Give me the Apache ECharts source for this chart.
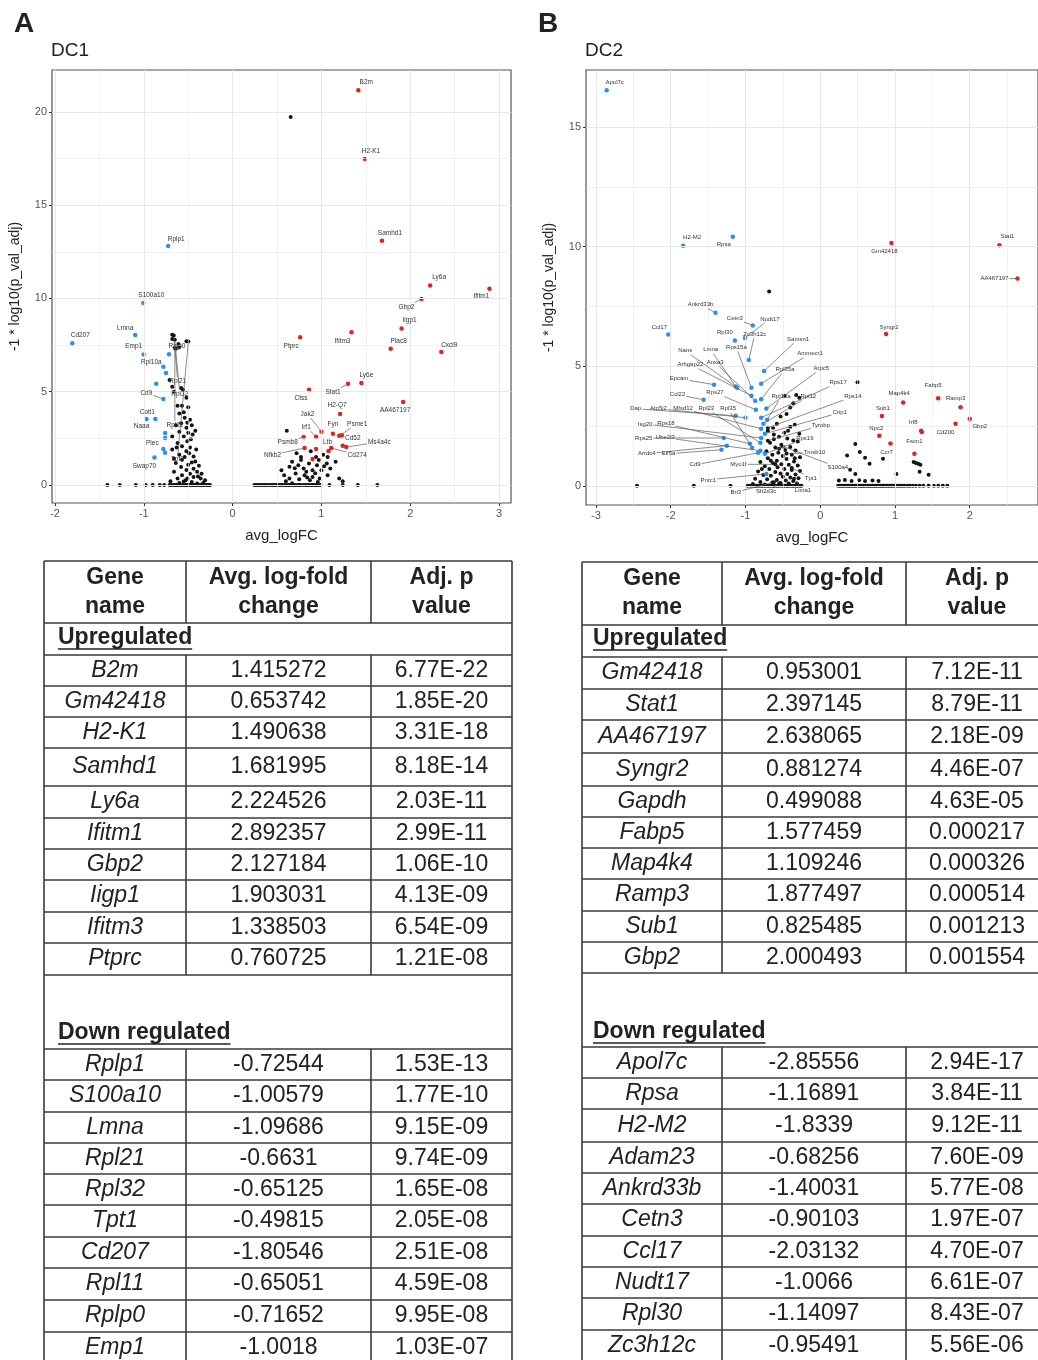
<!DOCTYPE html>
<html><head><meta charset="utf-8">
<script src="https://cdn.jsdelivr.net/npm/echarts@6/dist/echarts.min.js"></script>
<style>html,body{margin:0;padding:0;background:#fff}#c{width:1038px;height:1360px}</style>
</head><body><div id="c"></div>
<script>
// ---------------- DATA ----------------
// Tables (gene, avg logFC, adj p)
const tableA_up = [
 ['B2m','1.415272','6.77E-22'],['Gm42418','0.653742','1.85E-20'],['H2-K1','1.490638','3.31E-18'],
 ['Samhd1','1.681995','8.18E-14'],['Ly6a','2.224526','2.03E-11'],['Ifitm1','2.892357','2.99E-11'],
 ['Gbp2','2.127184','1.06E-10'],['Iigp1','1.903031','4.13E-09'],['Ifitm3','1.338503','6.54E-09'],
 ['Ptprc','0.760725','1.21E-08']];
const tableA_down = [
 ['Rplp1','-0.72544','1.53E-13'],['S100a10','-1.00579','1.77E-10'],['Lmna','-1.09686','9.15E-09'],
 ['Rpl21','-0.6631','9.74E-09'],['Rpl32','-0.65125','1.65E-08'],['Tpt1','-0.49815','2.05E-08'],
 ['Cd207','-1.80546','2.51E-08'],['Rpl11','-0.65051','4.59E-08'],['Rplp0','-0.71652','9.95E-08'],
 ['Emp1','-1.0018','1.03E-07']];
const tableB_up = [
 ['Gm42418','0.953001','7.12E-11'],['Stat1','2.397145','8.79E-11'],['AA467197','2.638065','2.18E-09'],
 ['Syngr2','0.881274','4.46E-07'],['Gapdh','0.499088','4.63E-05'],['Fabp5','1.577459','0.000217'],
 ['Map4k4','1.109246','0.000326'],['Ramp3','1.877497','0.000514'],['Sub1','0.825485','0.001213'],
 ['Gbp2','2.000493','0.001554']];
const tableB_down = [
 ['Apol7c','-2.85556','2.94E-17'],['Rpsa','-1.16891','3.84E-11'],['H2-M2','-1.8339','9.12E-11'],
 ['Adam23','-0.68256','7.60E-09'],['Ankrd33b','-1.40031','5.77E-08'],['Cetn3','-0.90103','1.97E-07'],
 ['Ccl17','-2.03132','4.70E-07'],['Nudt17','-1.0066','6.61E-07'],['Rpl30','-1.14097','8.43E-07'],
 ['Zc3h12c','-0.95491','5.56E-06']];

// Extra labelled genes on the volcano plots (avg_logFC, -log10 p_adj, name)
const extraA = [
 [1.78,7.3,'Plac8'],[2.35,7.13,'Cxcl9'],[1.45,5.47,'Ly6e'],[1.30,5.42,'Stat1'],[0.86,5.1,'Ctss'],
 [1.92,4.45,'AA467197'],[1.21,3.8,'H2-Q7'],[1.0,2.85,'Jak2'],[0.94,2.58,'Irf1'],[1.13,2.74,'Fyn'],
 [1.2,2.63,'Psme1'],[1.23,2.66,''],[0.80,2.57,'Psmb8'],[0.81,1.98,'Nfkb2'],[0.94,1.93,''],
 [1.08,1.82,'Ltb'],[1.11,1.98,'Cd274'],[1.24,2.1,'Cd52'],[1.28,2.03,'Ms4a4c'],[0.9,1.39,''],
 [-0.78,6.33,'Rpl10a'],[-0.75,6.0,''],[-0.86,5.42,''],[-0.78,4.61,'Cd9'],[-0.97,3.54,'Naaa'],
 [-0.87,3.54,'Cotl1'],[-0.76,2.79,''],[-0.76,2.52,''],[-0.78,1.93,'Plec'],[-0.76,1.72,''],
 [-0.88,1.47,'Swap70']];
const extraB = [
 [1.81,2.6,'Cd200'],[1.35,2.3,'Irf8'],[1.36,2.25,''],[0.79,2.09,'Npc2'],[0.94,1.77,'Ccr7'],[1.26,1.34,'Fscn1'],
 [-0.75,4.8,'Samsn1'],[-1.42,4.23,'Epcam'],[-1.13,4.15,'Lmna'],[-1.11,4.1,'Nans'],[-0.92,4.1,'Rps15a'],
 [-0.79,4.27,'Ammecr1'],[-0.92,3.77,'Arhgap22'],[-0.87,3.56,'Anxa3'],[-1.56,3.6,'Ccl22'],[-0.79,3.62,'Rpl35a'],
 [-0.72,3.23,'Arpc5'],[-0.86,3.18,'Rps27'],[-1.13,2.93,'Dap'],[-1.0,2.85,'Atp5j2'],[-0.79,2.85,'Rps17'],
 [-0.71,2.76,'Rpl13a'],[-0.76,2.6,'Rpl12'],[-0.70,2.43,'Rps14'],[-0.79,2.39,'Mfsd12'],[-0.74,2.18,'Crip1'],
 [-1.29,2.0,'Rps25'],[-0.79,2.0,'Isg20'],[-0.70,1.89,'Tyrobp'],[-0.94,1.76,'Rps18'],[-0.80,1.8,'Rpl23'],
 [-1.25,1.68,'Arrdc4'],[-1.32,1.51,'Eif5a'],[-0.91,1.59,'Rpl35'],[-0.83,1.38,'Cd9'],[-0.74,1.34,'Rps19'],
 [-0.80,1.47,'Ube2l3'],
 [-0.62,0.15,'Bri3'],[-0.55,0.1,'Sh2d3c'],[-0.35,0.3,'Lima1'],[-0.38,0.75,'Tpt1'],[-0.45,1.35,'Tmsb10'],
 [-0.5,1.65,'S100a4'],[-0.72,0.5,'Pnrc1'],[-0.6,0.9,'Myo1f']];

// Unlabelled genes (avg_logFC, -log10 p_adj)
const otherA = [
 [-0.68,8.05],[-0.68,7.83],[-0.61,7.55],[-0.52,7.7],[-0.6,7.4],[-0.64,7.3],[-0.71,5.63],[-0.68,5.26],
 [-0.58,5.2],[-0.56,5.1],[-0.66,5.0],[-0.52,4.67],[-0.62,4.24],[-0.57,4.24],[-0.5,4.17],[-0.6,3.83],
 [-0.54,3.6],[-0.48,3.5],[-0.51,3.33],[-0.58,3.3],[-0.64,3.2],[-0.46,3.2],[-0.52,3.07],[-0.6,2.85],
 [-0.5,2.8],[-0.45,2.7],[-0.68,2.6],[-0.55,2.6],[-0.51,2.34],[-0.62,2.25],[-0.57,2.07],[-0.48,2.0],
 [-0.68,1.9],[-0.52,1.8],[-0.6,1.62],[-0.44,1.52],[-0.57,1.35],[-0.42,1.26],[-0.64,1.17],[-0.5,1.08],
 [-0.38,1.03],[-0.58,0.96],[-0.44,0.87],[-0.52,0.8],[-0.66,0.7],[-0.4,0.7],[-0.48,0.6],[-0.57,0.52],
 [-0.44,0.43],[-0.62,0.34],[-0.36,0.34],[-0.51,0.34],[-0.7,0.2],[-0.55,0.18],[-0.46,0.15],[-0.33,0.12],
 [-0.6,0.1],[-0.4,0.08],[-0.47,2.45],[-0.42,2.9],[-0.55,3.9],[-0.49,1.7],[-0.46,1.2],[-0.54,1.5],
 [-0.41,1.9],[-0.63,2.0],[-0.66,1.4],[-0.35,0.6],[-0.31,0.25],[-0.39,0.45],[-0.53,0.25],
 [-1.41,0],[-1.27,0],[-1.09,0],[-0.98,0],[-0.9,0],[-0.82,0],[-0.77,0],[-0.71,0],[-0.69,0],[-0.665,0],
 [-0.64,0],[-0.63,0],[-0.61,0],[-0.585,0],[-0.57,0],[-0.55,0],[-0.53,0],[-0.515,0],[-0.5,0],[-0.48,0],
 [-0.465,0],[-0.45,0],[-0.43,0],[-0.41,0],[-0.395,0],[-0.38,0],[-0.36,0],[-0.345,0],[-0.33,0],[-0.31,0],
 [-0.295,0],[-0.28,0],[-0.265,0],[-0.255,0],
 [0.61,2.9],[0.64,0.97],[0.67,1.24],[0.74,1.06],[0.77,1.33],[0.8,0.88],[0.86,1.15],[0.9,0.79],
 [0.95,1.06],[0.97,1.33],[1.0,0.79],[1.06,1.15],[1.1,0.88],[0.71,0.61],[0.81,0.52],[0.9,0.43],
 [0.64,0.34],[0.87,0.25],[0.98,0.34],[1.07,0.52],[1.2,0.34],[1.24,0.2],[0.77,1.5],[0.94,1.5],
 [1.07,1.5],[1.16,1.24],[0.55,0.79],[0.58,0.52],[0.67,0.09],[0.7,0.9],[0.83,0.7],[0.93,0.62],
 [1.03,1.0],[0.75,0.3],[0.6,0.2],[0.72,1.7],[0.88,1.8],[1.02,1.62],[0.84,0.4],[0.96,0.15],
 [0.245,0],[0.27,0],[0.29,0],[0.31,0],[0.335,0],[0.355,0],[0.37,0],[0.39,0],[0.415,0],[0.44,0],
 [0.46,0],[0.48,0],[0.5,0],[0.525,0],[0.545,0],[0.56,0],[0.585,0],[0.61,0],[0.63,0],[0.645,0],
 [0.67,0],[0.69,0],[0.71,0],[0.735,0],[0.75,0],[0.77,0],[0.8,0],[0.82,0],[0.84,0],[0.86,0],
 [0.885,0],[0.9,0],[0.925,0],[0.945,0],[0.97,0],[0.99,0],[1.09,0],[1.24,0],[1.41,0],[1.63,0]];
const otherB = [
 [-0.48,3.77],[-0.32,3.8],[-0.28,3.68],[-0.4,3.27],[-0.36,3.45],[-0.53,2.9],[-0.45,3.0],[-0.4,2.47],
 [-0.63,2.43],[-0.48,2.22],[-0.28,2.18],[-0.58,2.6],[-0.34,2.55],[-0.7,2.3],[-0.55,2.05],[-0.62,1.95],
 [-0.44,1.98],[-0.36,1.9],[-0.3,1.85],[-0.67,1.8],[-0.52,1.72],[-0.6,1.6],[-0.4,1.62],[-0.47,1.5],
 [-0.33,1.48],[-0.72,1.45],[-0.56,1.38],[-0.64,1.3],[-0.38,1.3],[-0.5,1.25],[-0.27,1.2],[-0.7,1.15],
 [-0.45,1.12],[-0.58,1.05],[-0.35,1.02],[-0.8,1.0],[-0.63,0.95],[-0.52,0.9],[-0.42,0.88],[-0.3,0.85],
 [-0.74,0.82],[-0.57,0.78],[-0.68,0.7],[-0.48,0.7],[-0.38,0.66],[-0.27,0.62],[-0.83,0.6],[-0.6,0.58],
 [-0.53,0.52],[-0.44,0.5],[-0.33,0.47],[-0.76,0.45],[-0.66,0.42],[-0.5,0.38],[-0.4,0.35],[-0.29,0.32],
 [-0.87,0.3],[-0.71,0.28],[-0.58,0.25],[-0.46,0.22],[-0.36,0.2],[-0.8,0.16],[-0.64,0.14],[-0.53,0.12],
 [-0.42,0.1],[-0.31,0.1],[-0.9,0.08],[-0.74,0.06],[-0.66,1.05],[-0.55,1.55],[-0.43,2.3],[-0.62,2.15],
 [-0.34,1.15],[-0.78,0.7],
 [-2.45,0],[-1.69,0],[-1.2,0],[-0.97,0],[-0.93,0],[-0.9,0],[-0.87,0],[-0.85,0],[-0.82,0],[-0.79,0],
 [-0.77,0],[-0.74,0],[-0.71,0],[-0.69,0],[-0.66,0],[-0.63,0],[-0.61,0],[-0.58,0],[-0.56,0],[-0.53,0],
 [-0.5,0],[-0.48,0],[-0.45,0],[-0.43,0],[-0.4,0],[-0.37,0],[-0.35,0],[-0.32,0],[-0.3,0],[-0.27,0],[-0.25,0],
 [0.47,1.75],[0.36,1.27],[0.53,1.42],[0.6,1.17],[0.66,0.92],[0.84,1.13],[0.4,0.67],[0.47,0.5],
 [1.02,0.5],[1.28,0.96],[1.31,0.92],[1.34,0.88],[1.33,0.59],[1.45,0.46],[1.25,1.0],[0.25,0.22],
 [0.33,0.24],[0.42,0.2],[0.52,0.23],[0.6,0.2],[0.7,0.22],[0.78,0.2],
 [0.24,0],[0.265,0],[0.29,0],[0.31,0],[0.335,0],[0.36,0],[0.38,0],[0.4,0],[0.425,0],[0.45,0],
 [0.47,0],[0.49,0],[0.515,0],[0.54,0],[0.56,0],[0.58,0],[0.605,0],[0.63,0],[0.65,0],[0.67,0],
 [0.695,0],[0.72,0],[0.74,0],[0.76,0],[0.785,0],[0.81,0],[0.83,0],[0.85,0],[0.875,0],[0.9,0],
 [0.92,0],[0.94,0],[0.965,0],[0.99,0],[1.01,0],[1.04,0],[1.07,0],[1.1,0],[1.13,0],[1.17,0],
 [1.2,0],[1.24,0],[1.28,0],[1.33,0],[1.38,0],[1.45,0],[1.52,0],[1.58,0],[1.64,0],[1.7,0]];

// Axis ticks and grid lines
const ticksXA = [-2,-1,0,1,2,3], ticksYA = [0,5,10,15,20];
const minorXA = [-1.5,-0.5,0.5,1.5,2.5], minorYA = [2.5,7.5,12.5,17.5];
const ticksXB = [-3,-2,-1,0,1,2], ticksYB = [0,5,10,15];
const minorXB = [-2.5,-1.5,-0.5,0.5,1.5,2.5], minorYB = [2.5,7.5,12.5];
const FC_CUT = 0.7;

// -------------- LAYOUT / STYLE ----------------
const FONT = '"Liberation Sans", Arial, Helvetica, sans-serif';
const RED = '#e0231e', BLUE = '#2a8ff0', BLACK = '#141414';
// label offsets in px (label centre relative to point)
const offA = {
 'B2m':[8,-8],'H2-K1':[6,-8],'Samhd1':[8,-8],'Ly6a':[9,-8],'Ifitm1':[-8,8],'Gbp2':[-15,8],'Iigp1':[8,-8],
 'Ifitm3':[-9,9],'Ptprc':[-9,9],'Plac8':[8,-8],'Cxcl9':[8,-7],'Ly6e':[5,-8],'Stat1':[-15,8],'Ctss':[-8,8],
 'AA467197':[-8,8],'H2-Q7':[-3,-9],'Jak2':[-14,-18],'Irf1':[-10,-10],'Fyn':[0,-10],'Psme1':[18,-12],
 'Psmb8':[-16,5],'Ltb':[-1,-9],'Cd52':[10,-8],'Ms4a4c':[33,-5],'Cd274':[26,7],'Nfkb2':[-32,7],
 'Rplp1':[8,-7],'S100a10':[8,-8],'Lmna':[-10,-7],'Cd207':[8,-8],'Emp1':[-10,-8],'Rplp0':[8,-8],
 'Rpl10a':[-12,-5],'Cd9':[-17,-6],'Cotl1':[-8,-7],'Naaa':[-5,7],'Plec':[-11,-6],'Swap70':[-10,9],
 'Rpl21':[4,46],'Rpl32':[5,54],'Rpl11':[0,77],'Tpt1':[-11,118]};
const offB = {
 'Gm42418':[-7,8],'Stat1':[8,-9],'AA467197':[-23,0],'Syngr2':[3,-7],'Apol7c':[8,-8],'Rpsa':[-9,8],
 'H2-M2':[9,-8],'Ankrd33b':[-15,-8],'Ccl17':[-9,-7],'Cetn3':[-18,-7],'Nudt17':[25,-19],'Rpl30':[-10,-8],
 'Zc3h12c':[6,-26],'Fabp5':[-5,-13],'Map4k4':[-4,-9],'Ramp3':[-5,-9],'Sub1':[1,-8],'Gbp2':[10,8],
 'Cd200':[-10,9],'Irf8':[-8,-8],'Npc2':[-3,-8],'Ccr7':[-4,9],'Fscn1':[0,-12],
 'Samsn1':[34,-32],'Ammecr1':[49,-30],'Lmna':[-25,-37],'Nans':[-52,-37],'Rps15a':[-15,-40],
 'Arhgap22':[-61,-31],'Anxa3':[-40,-38],'Rpl35a':[24,-30],'Arpc5':[55,-40],'Epcam':[-35,-6],
 'Ccl22':[-26,-5],'Rps27':[-41,-17],'Dap':[-100,-7],'Atp5j2':[-87,-9],'Mfsd12':[-78,-20],
 'Rpl23':[-54,-34],'Rpl35':[-24,-39],'Rps17':[77,-35],'Rpl13a':[14,-23],'Rpl12':[45,-27],
 'Rps14':[85,-31],'Crip1':[75,-21],'Tyrobp':[53,-15],'Isg20':[-116,-14],'Rps18':[-84,-20],
 'Rps25':[-80,0],'Ube2l3':[-95,-13],'Arrdc4':[-80,8],'Eif5a':[-53,4],'Cd9':[-63,12],'Rps19':[40,-15],
 'Bri3':[-38,10],'Sh2d3c':[-13,8],'Lima1':[9,12],'Tpt1':[19,10],'Tmsb10':[28,-1],'S100a4':[55,21],
 'Pnrc1':[-58,6],'Myo1f':[-37,0]};

const mctx = document.createElement('canvas').getContext('2d');
function tw(t, font){ mctx.font = font; return mctx.measureText(t).width; }

function fromTable(t){ return t.map(r => [parseFloat(r[1]), -Math.log10(parseFloat(r[2])), r[0]]); }
const labelledA = fromTable(tableA_up).concat(fromTable(tableA_down), extraA);
const labelledB = fromTable(tableB_up).concat(fromTable(tableB_down), extraB);
function split(list){
  const r=[],b=[],k=[];
  list.forEach(d => { if (d[0] > FC_CUT) r.push([d[0],d[1]]); else if (d[0] < -FC_CUT) b.push([d[0],d[1]]); else k.push([d[0],d[1]]); });
  return {red:r, blue:b, black:k};
}
const sA = split(labelledA), sB = split(labelledB);

function gridLines(gi, majX, minX, majY, minY){
  const c = '#e8e8e8';
  const d = [];
  majX.forEach(v => d.push({xAxis:v, lineStyle:{color:c, width:1.1, type:'solid'}}));
  minX.forEach(v => d.push({xAxis:v, lineStyle:{color:c, width:0.6, type:'solid'}}));
  majY.forEach(v => d.push({yAxis:v, lineStyle:{color:c, width:1.1, type:'solid'}}));
  minY.forEach(v => d.push({yAxis:v, lineStyle:{color:c, width:0.6, type:'solid'}}));
  return {type:'scatter', xAxisIndex:gi, yAxisIndex:gi, data:[], z:1, silent:true,
    markLine:{silent:true, symbol:['none','none'], label:{show:false}, animation:false, data:d}};
}
function pts(gi, data, color, size, z){
  return {type:'scatter', xAxisIndex:gi, yAxisIndex:gi, data:data, symbol:'circle', symbolSize:size,
    itemStyle:{color:color, opacity:1}, z:z, silent:true, animation:false};
}
function labels(gi, items, offs, fs){
  const list = items.filter(d => d[2] && offs[d[2]]);
  const font = fs + 'px ' + FONT;
  return {type:'custom', xAxisIndex:gi, yAxisIndex:gi, coordinateSystem:'cartesian2d', clip:false,
    z:10, silent:true, animation:false,
    data: list.map(d => [d[0], d[1]]),
    renderItem: function(params, api){
      const d = list[params.dataIndex];
      const o = offs[d[2]];
      const p = api.coord([api.value(0), api.value(1)]);
      const cx = p[0]+o[0], cy = p[1]+o[1];
      const w = tw(d[2], font)/2 + 1, h = fs/2 + 1;
      const ch = [{type:'text', x:cx, y:cy, style:{text:d[2], fill:'#333', font:font,
        align:'center', verticalAlign:'middle', textAlign:'center', textVerticalAlign:'middle'}}];
      const dist = Math.sqrt(o[0]*o[0]+o[1]*o[1]);
      if (dist > 14) {
        const tx = o[0] !== 0 ? w/Math.abs(o[0]) : Infinity;
        const ty = o[1] !== 0 ? h/Math.abs(o[1]) : Infinity;
        const t = Math.min(tx, ty);
        ch.unshift({type:'line', shape:{x1:p[0]+o[0]*2/dist, y1:p[1]+o[1]*2/dist, x2:cx-o[0]*t, y2:cy-o[1]*t},
          style:{stroke:'#5a5a5a', lineWidth:0.7}});
      }
      return {type:'group', children:ch};
    }};
}
function xAxis(gi, min, max, ticks){
  return {gridIndex:gi, type:'value', min:min, max:max, splitLine:{show:false},
    axisLine:{show:false, onZero:false},
    axisTick:{show:true, customValues:ticks, length:3, lineStyle:{color:'#333', width:1}},
    axisLabel:{customValues:ticks, color:'#555', fontSize:11, fontFamily:FONT, margin:5},
    name:'avg_logFC', nameLocation:'middle', nameGap:25,
    nameTextStyle:{color:'#222', fontSize:15, fontFamily:FONT}};
}
function yAxis(gi, min, max, ticks){
  return {gridIndex:gi, type:'value', min:min, max:max, splitLine:{show:false},
    axisLine:{show:false, onZero:false},
    axisTick:{show:true, customValues:ticks, length:3, lineStyle:{color:'#333', width:1}},
    axisLabel:{customValues:ticks, color:'#555', fontSize:11, fontFamily:FONT, margin:5},
    name:'-1 * log10(p_val_adj)', nameLocation:'middle', nameGap:30,
    nameTextStyle:{color:'#222', fontSize:14, fontFamily:FONT}};
}

// ---------- tables as graphic ----------
const g = [];
const LC = '#3a3a3a';
function hline(x1,x2,y){ g.push({type:'line', shape:{x1:x1,y1:y,x2:x2,y2:y}, style:{stroke:LC, lineWidth:1.6}, z:5}); }
function vline(x,y1,y2){ g.push({type:'line', shape:{x1:x,y1:y1,x2:x,y2:y2}, style:{stroke:LC, lineWidth:1.6}, z:5}); }
function txt(t,x,y,font,align){ g.push({type:'text', x:x, y:y, style:{text:t, font:font, fill:'#222',
  align:align||'center', verticalAlign:'middle', textAlign:align||'center', textVerticalAlign:'middle'}, z:6}); }
const HF = 'bold 23px ' + FONT, DF = '23px ' + FONT, GF = 'italic 23px ' + FONT;
function table(L, up, down){
  const cx = [(L.left+L.c1)/2, (L.c1+L.c2)/2, (L.c2+L.right)/2];
  hline(L.left, L.right, L.top); hline(L.left, L.right, L.head); hline(L.left, L.right, L.upT);
  vline(L.left, L.top, 1362); vline(L.right, L.top, 1362);
  vline(L.c1, L.top, L.head); vline(L.c2, L.top, L.head);
  const hm = (L.top+L.head)/2;
  [['Gene','name'],['Avg. log-fold','change'],['Adj. p','value']].forEach((h,i) => {
    txt(h[0], cx[i], hm-14.5, HF); txt(h[1], cx[i], hm+14.5, HF); });
  const sec = (label, y) => { txt(label, L.tx, y, HF, 'left');
    const w = tw(label, HF); g.push({type:'line', shape:{x1:L.tx, y1:y+11, x2:L.tx+w, y2:y+11}, style:{stroke:'#222', lineWidth:1.5}, z:6}); };
  sec('Upregulated', L.upY);
  let prev = L.upT;
  up.forEach((r,i) => { const b = L.upRows[i]; hline(L.left, L.right, b);
    const m = (prev+b)/2; txt(r[0], cx[0], m, GF); txt(r[1], cx[1], m, DF); txt(r[2], cx[2], m, DF); prev = b; });
  vline(L.c1, L.upT, prev); vline(L.c2, L.upT, prev);
  sec('Down regulated', L.downY);
  hline(L.left, L.right, L.downT);
  prev = L.downT;
  down.forEach((r,i) => { const b = L.downRows[i]; hline(L.left, L.right, b);
    const m = (prev+b)/2; txt(r[0], cx[0], m, GF); txt(r[1], cx[1], m, DF); txt(r[2], cx[2], m, DF); prev = b; });
  vline(L.c1, L.downT, 1362); vline(L.c2, L.downT, 1362);
}
table({left:44, right:512, c1:186, c2:371, top:561, head:623, upT:655, tx:58, upY:638, downY:1033,
  upRows:[686,717,748,786,818,849,880,912,943,975], downT:1049,
  downRows:[1080,1112,1143,1174,1205,1237,1268,1300,1332,1363]}, tableA_up, tableA_down);
table({left:582, right:1048, c1:722, c2:906, top:562, head:625, upT:657, tx:593, upY:639, downY:1032,
  upRows:[689,720,753,786,817,848,879,911,942,973], downT:1047,
  downRows:[1078,1109,1142,1173,1204,1236,1267,1298,1330,1361]}, tableB_up, tableB_down);
txt('A', 14, 24, 'bold 28px ' + FONT, 'left');
txt('B', 538, 24, 'bold 28px ' + FONT, 'left');
txt('DC1', 51, 51, '19px ' + FONT, 'left');
txt('DC2', 585, 51, '19px ' + FONT, 'left');

const option = {
  animation:false, backgroundColor:'#fff',
  grid:[
    {left:52, top:70, width:459, height:433, show:true, borderColor:'#555', borderWidth:1.2, backgroundColor:'#fff', containLabel:false},
    {left:586, top:70, width:458, height:435, show:true, borderColor:'#555', borderWidth:1.2, backgroundColor:'#fff', containLabel:false}],
  xAxis:[xAxis(0,-2.034,3.135,ticksXA), xAxis(1,-3.132,2.913,ticksXB)],
  yAxis:[yAxis(0,-0.97,22.25,ticksYA), yAxis(1,-0.8,17.38,ticksYB)],
  graphic:{elements:g},
  series:[
    gridLines(0, ticksXA, minorXA, ticksYA, minorYA),
    gridLines(1, ticksXB, minorXB, ticksYB, minorYB),
    pts(0, otherA.concat(sA.black), BLACK, 4, 3),
    pts(1, otherB.concat(sB.black), BLACK, 4, 3),
    pts(0, sA.red, RED, 4.5, 4), pts(0, sA.blue, BLUE, 4.5, 4),
    pts(1, sB.red, RED, 4.5, 4), pts(1, sB.blue, BLUE, 4.5, 4),
    labels(0, labelledA, offA, 6.5),
    labels(1, labelledB, offB, 6)
  ]
};
const chart = echarts.init(document.getElementById('c'), null, {renderer:'canvas'});
chart.setOption(option);
</script></body></html>
